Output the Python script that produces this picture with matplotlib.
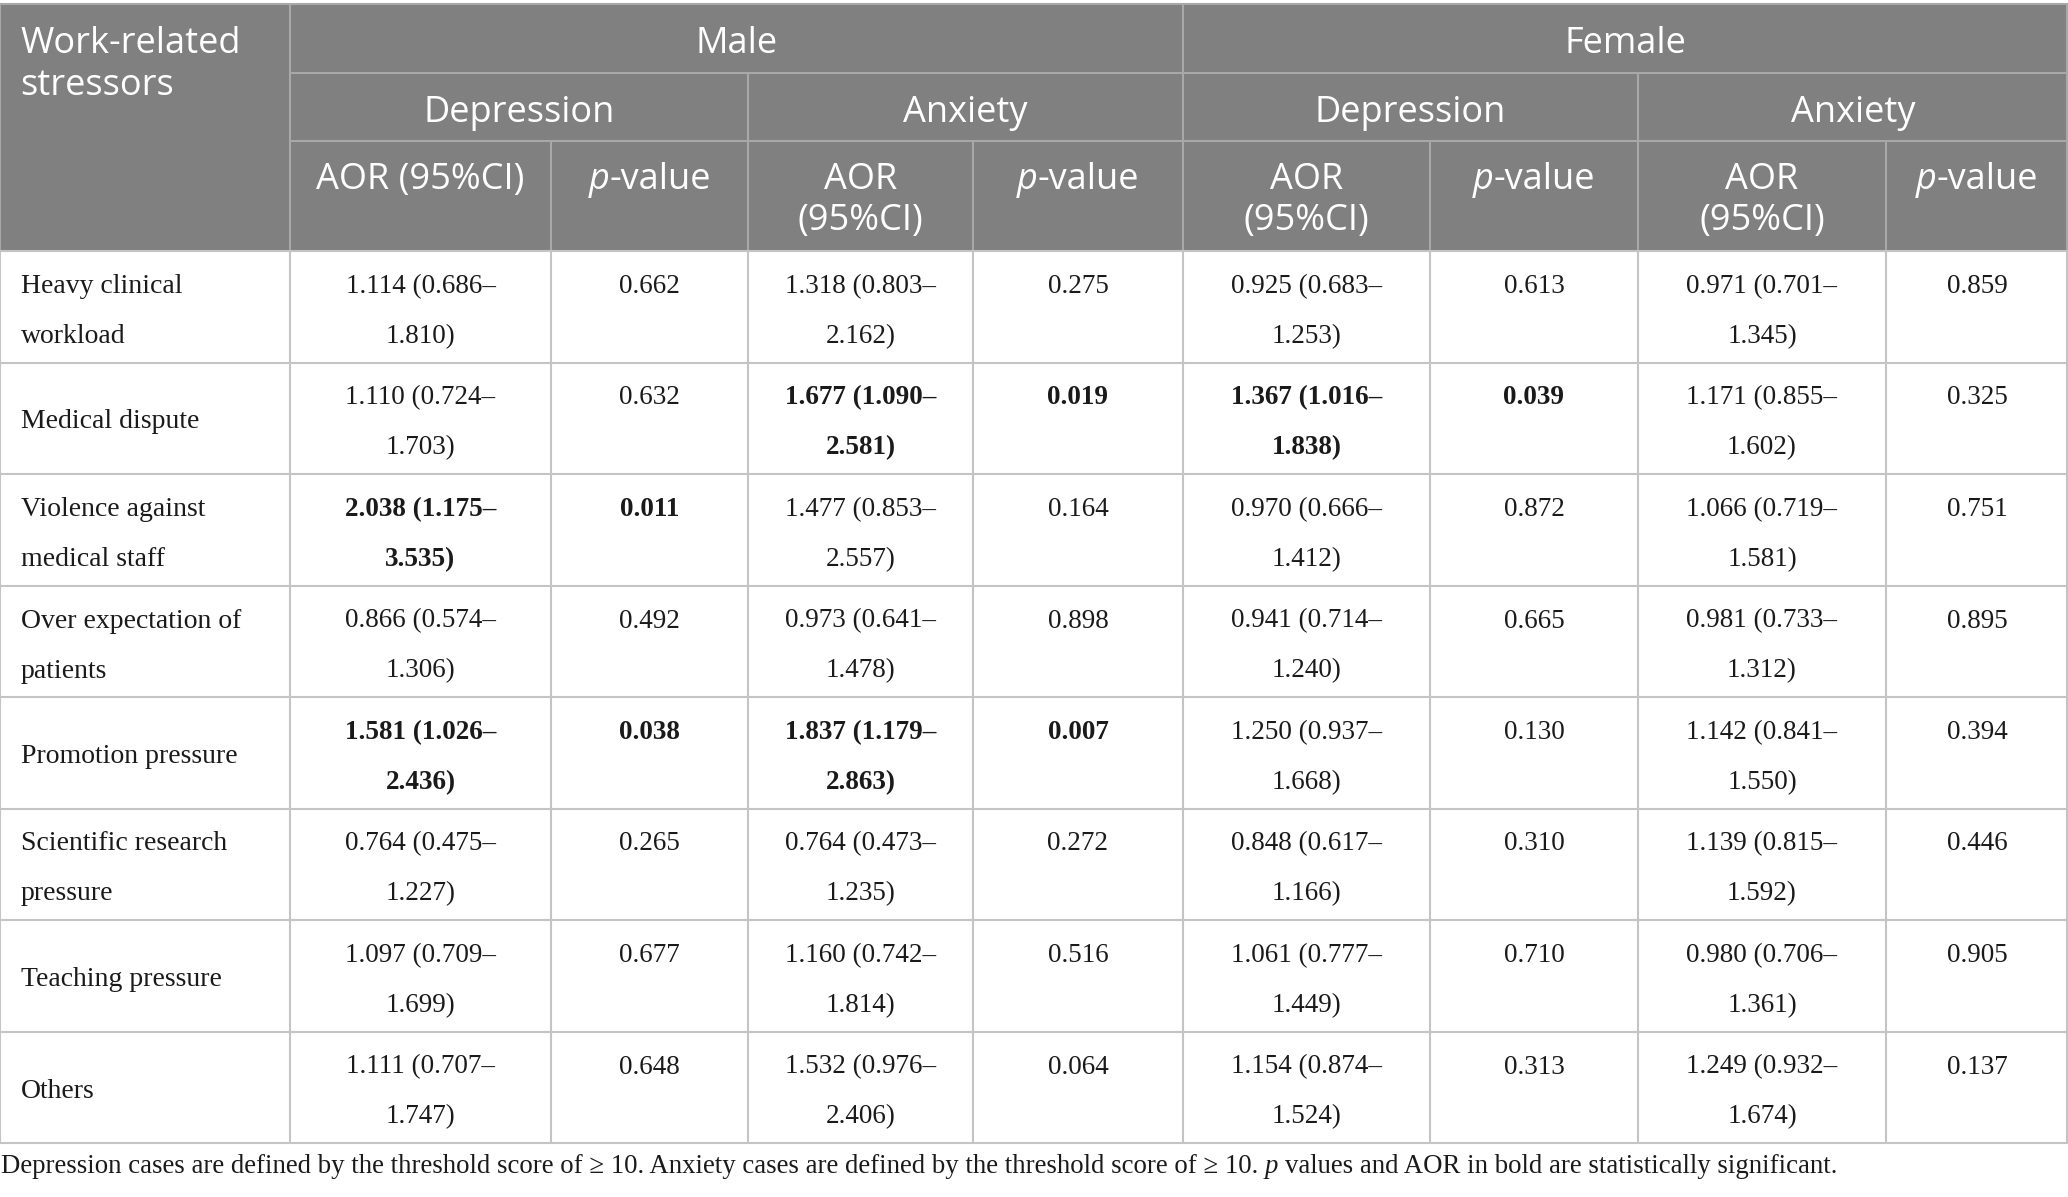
import matplotlib.pyplot as plt
from matplotlib.patches import Rectangle

# --- Table data ---
stressors = ["Heavy clinical\nworkload", "Medical dispute", "Violence against\nmedical staff",
             "Over expectation of\npatients", "Promotion pressure", "Scientific research\npressure",
             "Teaching pressure", "Others"]

male_dep_aor = [1.114, 1.110, 2.038, 0.866, 1.581, 0.764, 1.097, 1.111]
male_dep_lo = [0.686, 0.724, 1.175, 0.574, 1.026, 0.475, 0.709, 0.707]
male_dep_hi = [1.810, 1.703, 3.535, 1.306, 2.436, 1.227, 1.699, 1.747]
male_dep_p = [0.662, 0.632, 0.011, 0.492, 0.038, 0.265, 0.677, 0.648]

male_anx_aor = [1.318, 1.677, 1.477, 0.973, 1.837, 0.764, 1.160, 1.532]
male_anx_lo = [0.803, 1.090, 0.853, 0.641, 1.179, 0.473, 0.742, 0.976]
male_anx_hi = [2.162, 2.581, 2.557, 1.478, 2.863, 1.235, 1.814, 2.406]
male_anx_p = [0.275, 0.019, 0.164, 0.898, 0.007, 0.272, 0.516, 0.064]

female_dep_aor = [0.925, 1.367, 0.970, 0.941, 1.250, 0.848, 1.061, 1.154]
female_dep_lo = [0.683, 1.016, 0.666, 0.714, 0.937, 0.617, 0.777, 0.874]
female_dep_hi = [1.253, 1.838, 1.412, 1.240, 1.668, 1.166, 1.449, 1.524]
female_dep_p = [0.613, 0.039, 0.872, 0.665, 0.130, 0.310, 0.710, 0.313]

female_anx_aor = [0.971, 1.171, 1.066, 0.981, 1.142, 1.139, 0.980, 1.249]
female_anx_lo = [0.701, 0.855, 0.719, 0.733, 0.841, 0.815, 0.706, 0.932]
female_anx_hi = [1.345, 1.602, 1.581, 1.312, 1.550, 1.592, 1.361, 1.674]
female_anx_p = [0.859, 0.325, 0.751, 0.895, 0.394, 0.446, 0.905, 0.137]

groups = [
    (male_dep_aor, male_dep_lo, male_dep_hi, male_dep_p),
    (male_anx_aor, male_anx_lo, male_anx_hi, male_anx_p),
    (female_dep_aor, female_dep_lo, female_dep_hi, female_dep_p),
    (female_anx_aor, female_anx_lo, female_anx_hi, female_anx_p),
]

# --- Layout (pixels) ---
W, H = 2068, 1197
col_x = [0, 290, 551, 748, 973, 1183, 1430, 1638, 1886, 2068]
hdr_y = [4, 73, 141, 251]
row_h = 111.5
n_rows = len(stressors)
body_top = hdr_y[-1]
body_bot = body_top + n_rows * row_h

HDR_BG = "#808080"
HDR_LINE = "#a8a8a8"
BODY_LINE = "#c4c4c4"
SANS = ["Open Sans", "DejaVu Sans"]
SERIF = ["Liberation Serif", "DejaVu Serif"]
HDR_FS = 26
LABEL_FS = 20
NUM_FS = 19.5
NOTE_FS = 19.3

fig = plt.figure(figsize=(W / 100, H / 100), dpi=100)
ax = fig.add_axes([0, 0, 1, 1])
ax.set_xlim(0, W)
ax.set_ylim(H, 0)
ax.axis('off')
renderer = fig.canvas.get_renderer()


def text_width(s, **kw):
    t = ax.text(0, 0, s, **kw)
    w = t.get_window_extent(renderer).width
    t.remove()
    return w


def draw_runs(x, y, runs, ha='left', **kw):
    # runs: list of (text, style); a run of " " is measured as a space
    widths = []
    for s, st in runs:
        if s == " ":
            widths.append(text_width("a a", style=st, **kw) - text_width("aa", style=st, **kw))
        else:
            widths.append(text_width(s, style=st, **kw))
    if ha == 'center':
        x -= sum(widths) / 2
    for (s, st), w in zip(runs, widths):
        if s != " ":
            ax.text(x, y, s, style=st, ha='left', va='baseline', **kw)
        x += w


def line(x0, x1, y0, y1, color, lw=1.5):
    ax.plot([x0, x1], [y0, y1], color=color, lw=lw, solid_capstyle='butt')


# --- Header block ---
ax.add_patch(Rectangle((0, hdr_y[0]), W, hdr_y[-1] - hdr_y[0], facecolor=HDR_BG, edgecolor='none'))
line(0, W, hdr_y[0], hdr_y[0], HDR_LINE)
line(col_x[1], W, hdr_y[1], hdr_y[1], HDR_LINE)
line(col_x[1], W, hdr_y[2], hdr_y[2], HDR_LINE)
for x in (0, col_x[1], col_x[5], W - 1):
    line(x, x, hdr_y[0], hdr_y[3], HDR_LINE)
for x in (col_x[3], col_x[7]):
    line(x, x, hdr_y[1], hdr_y[3], HDR_LINE)
for x in (col_x[2], col_x[4], col_x[6], col_x[8]):
    line(x, x, hdr_y[2], hdr_y[3], HDR_LINE)

hkw = dict(fontsize=HDR_FS, family=SANS, color='white', va='baseline')
ax.text(20, 53, "Work-related", ha='left', **hkw)
ax.text(20, 95, "stressors", ha='left', **hkw)
ax.text((col_x[1] + col_x[5]) / 2, 53, "Male", ha='center', **hkw)
ax.text((col_x[5] + col_x[9]) / 2, 53, "Female", ha='center', **hkw)
sub_names = ["Depression", "Anxiety", "Depression", "Anxiety"]
for g, name in enumerate(sub_names):
    c0, c1 = col_x[1 + 2 * g], col_x[3 + 2 * g]
    ax.text((c0 + c1) / 2, 122, name, ha='center', **hkw)
    # AOR column
    cx = (col_x[1 + 2 * g] + col_x[2 + 2 * g]) / 2
    if g == 0:
        ax.text(cx, 189, "AOR (95%CI)", ha='center', **hkw)
    else:
        ax.text(cx, 189, "AOR", ha='center', **hkw)
        ax.text(cx, 230, "(95%CI)", ha='center', **hkw)
    # p-value column
    px = (col_x[2 + 2 * g] + col_x[3 + 2 * g]) / 2
    draw_runs(px, 189, [("p", 'italic'), ("-value", 'normal')], ha='center',
              fontsize=HDR_FS, family=SANS, color='white')

# --- Body grid ---
for i in range(n_rows + 1):
    y = body_top + i * row_h
    line(0, W, y, y, BODY_LINE)
for x in col_x[:-1] + [W - 1]:
    line(x, x, body_top, body_bot, BODY_LINE)

lkw = dict(fontsize=LABEL_FS, family=SERIF, color='#1a1a1a', va='baseline')
nkw = dict(fontsize=NUM_FS, family=SERIF, color='#1a1a1a', va='baseline')
for i, label in enumerate(stressors):
    top = body_top + i * row_h
    parts = label.split("\n")
    if len(parts) == 2:
        ax.text(21, top + 42, parts[0], ha='left', **lkw)
        ax.text(21, top + 92, parts[1], ha='left', **lkw)
    else:
        ax.text(21, top + 66, parts[0], ha='left', **lkw)
    for g, (aor, lo, hi, pv) in enumerate(groups):
        wt = 'bold' if pv[i] < 0.05 else 'normal'
        cx = (col_x[1 + 2 * g] + col_x[2 + 2 * g]) / 2
        px = (col_x[2 + 2 * g] + col_x[3 + 2 * g]) / 2
        ax.text(cx, top + 42, f"{aor[i]:.3f} ({lo[i]:.3f}\u2013", ha='center', fontweight=wt, **nkw)
        ax.text(cx, top + 92, f"{hi[i]:.3f})", ha='center', fontweight=wt, **nkw)
        ax.text(px, top + 42, f"{pv[i]:.3f}", ha='center', fontweight=wt, **nkw)

# --- Footnote ---
note_a = ("Depression cases are defined by the threshold score of \u2265 10. "
          "Anxiety cases are defined by the threshold score of \u2265 10.")
note_b = "values and AOR in bold are statistically significant."
draw_runs(1, 1173, [(note_a, 'normal'), (" ", 'normal'), ("p", 'italic'), (" ", 'normal'), (note_b, 'normal')],
          fontsize=NOTE_FS, family=SERIF, color='#1a1a1a')

fig.savefig("out.png", dpi=100)
